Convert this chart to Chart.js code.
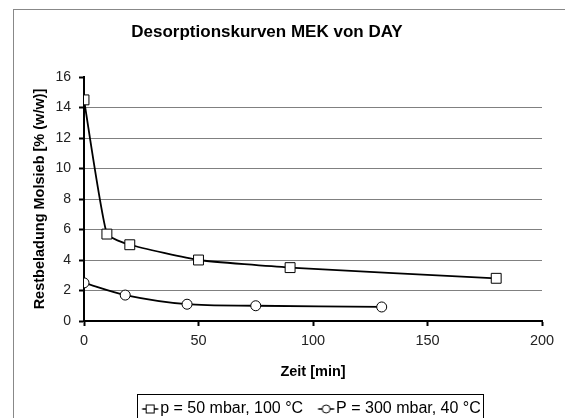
<!DOCTYPE html>
<html><head><meta charset="utf-8">
<script src="https://cdn.jsdelivr.net/npm/chart.js@4/dist/chart.umd.min.js"></script>
<style>html,body{margin:0;padding:0;background:#fff;overflow:hidden}#wrap{width:565px;height:418px;overflow:hidden}</style>
</head><body><div id="wrap"><canvas id="c" width="565" height="432"></canvas></div>
<script>
const seriesNames = ['p = 50 mbar, 100 °C', 'P = 300 mbar, 40 °C'];
const timeA = [0, 10, 20, 50, 90, 180];
const loadA = [14.5, 5.7, 5.0, 4.0, 3.5, 2.8];
const timeB = [0, 18, 45, 75, 130];
const loadB = [2.5, 1.7, 1.1, 1.0, 0.92];
const xTicks = [0, 50, 100, 150, 200];
const yTicks = [0, 2, 4, 6, 8, 10, 12, 14, 16];

const FONT = 'Liberation Sans, Arial, sans-serif';

function legendImg(shape){
  const W = 42, c = document.createElement('canvas'); c.width = W; c.height = 12;
  const g = c.getContext('2d');
  const x0 = 18.5, x1 = 34.5, cx = (x0 + x1) / 2;
  g.strokeStyle = '#000'; g.lineWidth = 1.5;
  g.beginPath(); g.moveTo(x0,6); g.lineTo(x1,6); g.stroke();
  g.fillStyle = '#fff'; g.lineWidth = 1;
  if (shape === 'rect'){ g.fillRect(cx-4,2,8,8); g.strokeRect(cx-4,2,8,8); }
  else { g.beginPath(); g.arc(cx,6,4,0,Math.PI*2); g.fill(); g.stroke(); }
  return c;
}
const imgs = [legendImg('rect'), legendImg('circle')];

const frame = {
  id: 'frame',
  afterLayout(chart){
    const lg = chart.legend;
    const ca = chart.chartArea;
    const d = ((ca.left + ca.right) / 2 - 4) - (lg.left + lg.right) / 2;
    lg.left += d; lg.right += d;
    const t = chart.titleBlock;
    if (t){ t.left -= 14; t.right -= 14; }
  },
  beforeDraw(chart){
    const g = chart.ctx; g.save();
    g.strokeStyle = '#888'; g.lineWidth = 1;
    g.strokeRect(13.5, 9.5, 600, 500);
    g.restore();
  },
  afterDraw(chart){
    const lg = chart.legend;
    const pad = lg.options.labels.padding;
    const lw = lg.lineWidths[0];
    const x = (lg.left + pad + lg.right - lw) / 2;
    const end = x + lw - pad;
    const g = chart.ctx; g.save();
    g.strokeStyle = '#000'; g.lineWidth = 1;
    const l = Math.round(x) + 0.5;
    const r = Math.round(end) + 2.5;
    g.strokeRect(l, 394.5, r - l, 40);
    g.restore();
  }
};

const toPts = (xs, ys) => xs.map((x,i)=>({x, y: ys[i]}));

new Chart(document.getElementById('c'), {
  type: 'line',
  data: { datasets: [
    { label: seriesNames[0], data: toPts(timeA, loadA), borderColor:'#000', borderWidth:1.8,
      pointStyle:'rect', pointRadius:7, pointBackgroundColor:'#fff', pointBorderColor:'#000', pointBorderWidth:1, tension:0.15 },
    { label: seriesNames[1], data: toPts(timeB, loadB), borderColor:'#000', borderWidth:1.8,
      pointStyle:'circle', pointRadius:5, pointBackgroundColor:'#fff', pointBorderColor:'#000', pointBorderWidth:1, tension:0.3 }
  ]},
  options: {
    responsive:false, animation:false, devicePixelRatio:1,
    layout: { padding: { left: 20, right: 23, top: 0, bottom: 5 } },
    plugins: {
      title: { display:true, text:'Desorptionskurven MEK von DAY', color:'#000',
        font:{ family:FONT, size:17, weight:'bold' }, padding:{ top:22, bottom:34.6 } },
      legend: { position:'bottom',
        labels: { color:'#000', font:{ family:FONT, size:16 }, usePointStyle:true, pointStyleWidth:15, padding:10,
          generateLabels(chart){ return chart.data.datasets.map((d,i)=>({ text:d.label, pointStyle: imgs[i], datasetIndex:i, fontColor:'#000', lineWidth:0, strokeStyle:'transparent', fillStyle:'transparent' })); } } },
      tooltip: { enabled:false }
    },
    scales: {
      x: { type:'linear', min:0, max:200,
        afterFit(s){ s.height = 70; },
        afterBuildTicks(s){ s.ticks = xTicks.map(v=>({value:v})); },
        border:{ color:'#000', width:2 },
        grid:{ drawOnChartArea:false, tickLength:5, tickColor:'#000', tickWidth:2 },
        ticks:{ color:'#222', font:{ family:FONT, size:14.5 }, padding:6, maxRotation:0 },
        title:{ display:true, text:'Zeit [min]', color:'#000', font:{ family:FONT, size:14.5, weight:'bold' }, padding:{ top:4, bottom:10 } } },
      y: { type:'linear', min:0, max:16,
        afterFit(s){ s.width = 64; },
        afterBuildTicks(s){ s.ticks = yTicks.map(v=>({value:v})); },
        border:{ color:'#000', width:2 },
        grid:{ color:(c)=> (c.tick && (c.tick.value===16 || c.tick.value===0)) ? 'rgba(0,0,0,0)' : '#808080', lineWidth:1, tickLength:5, tickColor:'#000', tickWidth:2 },
        ticks:{ color:'#222', font:{ family:FONT, size:14 }, padding:8 },
        title:{ display:true, text:'Restbeladung Molsieb [% (w/w)]', color:'#000', font:{ family:FONT, size:14.5, weight:'bold' }, padding:{ top:11.3, bottom:2 } } }
    }
  },
  plugins:[frame]
});
</script></body></html>
